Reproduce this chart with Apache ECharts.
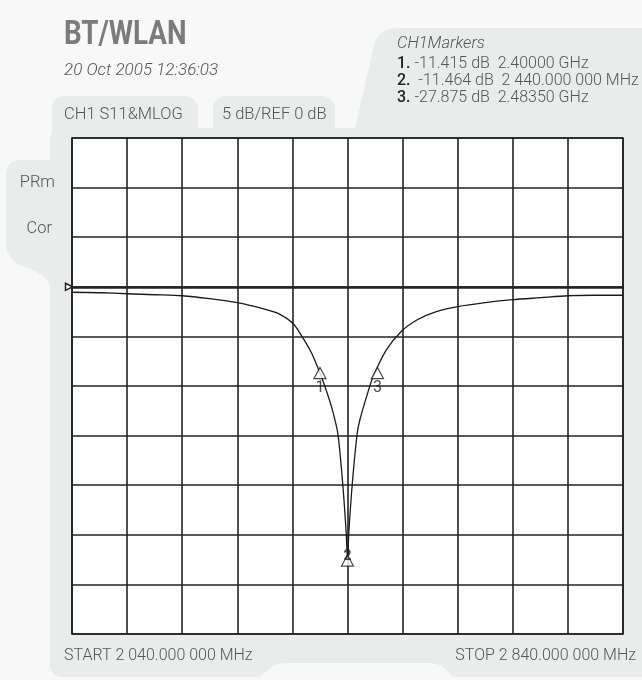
<!DOCTYPE html>
<html>
<head>
<meta charset="utf-8">
<script src="https://cdn.jsdelivr.net/npm/echarts@6/dist/echarts.min.js"></script>
<style>
  html, body { margin: 0; padding: 0; background: #f7f8f7; }
  #chart { width: 642px; height: 680px; }
</style>
</head>
<body>
<div id="chart"></div>
<script>
// sweep, MHz
const freqMHz = [2040, 2080, 2120, 2160, 2200, 2240, 2280, 2317, 2340, 2361, 2373, 2388, 2400, 2409, 2418, 2426, 2433, 2438, 2440, 2442, 2447, 2454, 2458, 2468, 2477, 2496, 2518, 2542, 2569, 2600, 2640, 2680, 2720, 2760, 2800, 2840]
// S11 log magnitude, dB
const s11dB = [-0.55, -0.6, -0.7, -0.8, -0.9, -1.2, -1.6, -2.2, -2.7, -3.7, -4.9, -6.7, -8.7, -10.4, -12.4, -14.8, -19.8, -24.7, -27.6, -24.7, -19.8, -14.8, -13.4, -11.0, -9.1, -6.4, -4.5, -3.3, -2.5, -2.0, -1.6, -1.3, -1.1, -0.9, -0.85, -0.85]

const markerNames = ['1', '2', '3']
const markerFreq = [2400, 2440, 2483.5]
const markerDb = [-8.7, -27.6, -8.7]

const markerLines = [
  ['1.', '-11.415 dB', '2.40000 GHz'],
  ['2.', ' -11.464 dB', '2 440.000 000 MHz'],
  ['3.', '-27.875 dB', '2.48350 GHz']
]

const START_MHZ = 2040
const STOP_MHZ = 2840
const REF_DB = 0
const FONT = 'Roboto, "Liberation Sans", sans-serif'
const PANEL = '#e8ecea'
const BG = '#f7f8f7'
const TEXT = '#555'

const chart = echarts.init(document.getElementById('chart'))

// outline helper: straight points and quadratic corners
function outline(parts) {
  let pts = []
  parts.forEach(p => {
    if (p.length === 2) { pts.push(p); return }
    const [x0, y0, cx, cy, x1, y1] = p
    for (let t = 0; t <= 1.0001; t += 0.125) {
      const a = (1 - t) * (1 - t), b = 2 * (1 - t) * t, c = t * t
      pts.push([a * x0 + b * cx + c * x1, a * y0 + b * cy + c * y1])
    }
  })
  return pts
}
const poly = (parts, fill, z) => ({ type: 'polygon', z: z || -10, shape: { points: outline(parts) }, style: { fill } })

const txt = (x, y, text, extra, more) => Object.assign({
  type: 'text', x, y, z: 10,
  style: Object.assign({ text, fill: TEXT, font: '300 16.5px ' + FONT, textVerticalAlign: 'middle' }, extra || {})
}, more || {})

const panels = [
  // marker panel with slanted left edge
  poly([[350, 150], [374, 46], [374, 46, 378, 28, 398, 28], [642, 28], [642, 150]], PANEL),
  // tabs
  { type: 'rect', z: -10, shape: { x: 52, y: 96, width: 146, height: 50, r: [13, 13, 0, 0] }, style: { fill: PANEL } },
  { type: 'rect', z: -10, shape: { x: 213, y: 96, width: 122, height: 50, r: [13, 13, 0, 0] }, style: { fill: PANEL } },
  // main panel
  { type: 'rect', z: -10, shape: { x: 50, y: 128, width: 600, height: 549, r: [12, 0, 0, 12] }, style: { fill: PANEL } },
  // left side tab
  poly([[55, 160], [22, 160], [22, 160, 6, 160, 6, 176], [6, 242], [6, 242, 6, 262, 28, 268], [28, 268, 50, 276, 50, 290], [55, 290]], PANEL),
  // bottom notch
  poly([[255, 681], [270, 668], [270, 668, 276, 663, 286, 663], [428, 663], [428, 663, 438, 663, 444, 668], [458, 681]], BG, -9)
]

const texts = [
  txt(64, 36, 'BT/WLAN', { fill: '#7b7b7b', font: 'bold 33px ' + FONT }, { scaleX: 0.84 }),
  txt(64, 71, '20 Oct 2005 12:36:03', { font: 'italic 300 17px ' + FONT }),
  txt(64, 115, 'CH1 S11&MLOG'),
  txt(222, 115, '5 dB/REF 0 dB'),
  txt(397, 44, 'CH1Markers', { font: 'italic 300 16.5px ' + FONT }),
  txt(55, 183, 'PRm', { textAlign: 'right' }),
  txt(52, 229, 'Cor', { textAlign: 'right' }),
  txt(64, 656, 'START 2 040.000 000 MHz', { font: '300 16px ' + FONT }),
  txt(636, 656, 'STOP 2 840.000 000 MHz', { textAlign: 'right', font: '300 16px ' + FONT })
]
markerLines.forEach((m, i) => {
  texts.push({
    type: 'text', x: 397, y: 64 + i * 17, z: 10,
    style: {
      text: '{n|' + m[0] + '} ' + m[1] + '  ' + m[2],
      fill: TEXT, font: '300 16px ' + FONT, textVerticalAlign: 'middle',
      rich: { n: { fill: '#222', fontWeight: 500, fontSize: 16, fontFamily: FONT } }
    }
  })
})

const option = {
  backgroundColor: BG,
  animation: false,
  grid: {
    left: 72, right: 19, top: 138, bottom: 46,
    show: true, backgroundColor: '#fff', borderColor: '#222', borderWidth: 1.6
  },
  xAxis: [{
    type: 'value', min: START_MHZ, max: STOP_MHZ,
    show: false
  }, {
    // 10 divisions for the graticule
    type: 'value', min: 0, max: 10, interval: 1,
    axisLine: { show: false }, axisTick: { show: false }, axisLabel: { show: false },
    splitLine: { show: true, lineStyle: { color: '#222', width: 1.6 } }
  }],
  yAxis: {
    type: 'value', min: -35, max: 15, interval: 5,
    axisLine: { show: false }, axisTick: { show: false }, axisLabel: { show: false },
    splitLine: { show: true, lineStyle: { color: '#222', width: 1.6 } }
  },
  graphic: panels.concat(texts),
  series: [{
    type: 'line',
    xAxisIndex: 0,
    data: freqMHz.map((f, i) => [f, s11dB[i]]),
    showSymbol: false,
    smooth: 0.25,
    lineStyle: { color: '#1a1a1a', width: 1.3 },
    z: 5,
    markLine: {
      silent: true,
      symbol: 'none',
      label: { show: false },
      lineStyle: { color: '#222', width: 2.5, type: 'solid' },
      data: [{ yAxis: REF_DB }]
    },
    markPoint: {
      silent: true,
      symbol: 'triangle',
      symbolSize: 7,
      symbolRotate: -90,
      symbolOffset: [-3, 0],
      itemStyle: { color: '#fff', borderColor: '#222', borderWidth: 1.5 },
      label: { show: false },
      data: [{ coord: [START_MHZ, REF_DB] }]
    }
  }, {
    type: 'scatter',
    xAxisIndex: 0,
    z: 6,
    symbol: 'triangle',
    symbolSize: [12, 11],
    itemStyle: { color: '#fff', borderColor: '#1a1a1a', borderWidth: 1.2 },
    label: {
      show: true, position: 'bottom', distance: 1,
      color: '#222', fontFamily: FONT, fontWeight: 400, fontSize: 16,
      formatter: p => markerNames[p.dataIndex]
    },
    data: markerFreq.map((f, i) => ({
      value: [f, markerDb[i]],
      label: i === 1 ? { position: 'inside', offset: [0, -4], fontWeight: 'bold', fontSize: 14 } : undefined
    }))
  }]
}

chart.setOption(option)
</script>
</body>
</html>
